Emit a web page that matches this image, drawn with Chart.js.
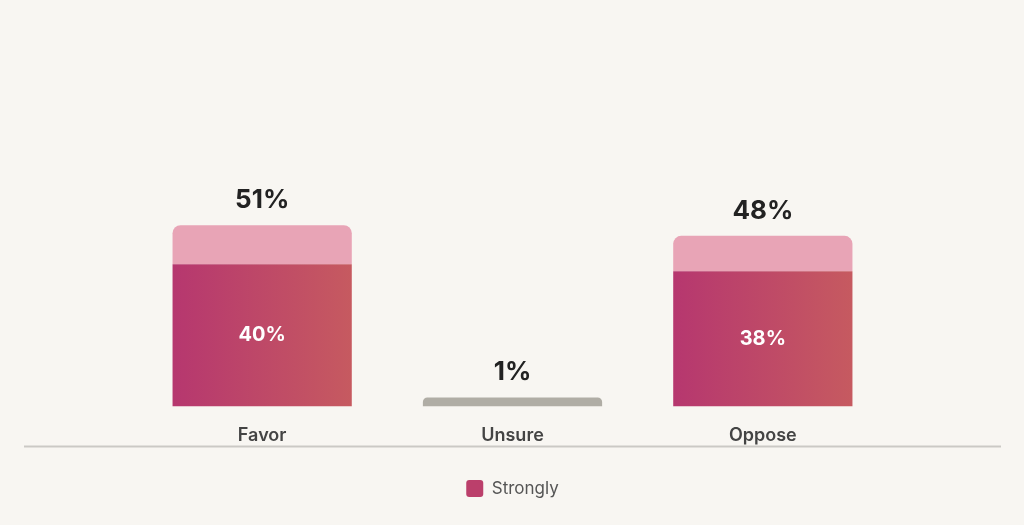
<!DOCTYPE html>
<html>
<head>
<meta charset="utf-8">
<script src="https://cdn.jsdelivr.net/npm/chart.js@4"></script>
<style>
  html, body { margin: 0; padding: 0; background: #f8f6f2; }
  canvas { display: block; }
</style>
</head>
<body>
<canvas id="chart" width="1024" height="525"></canvas>
<script>
const categories = ['Favor', 'Unsure', 'Oppose'];
const strongly = [40, null, 38];
const somewhat = [11, null, 10];
const unsure = [null, 1, null];

const FONT = "Inter, 'DejaVu Sans', sans-serif";
const BAR_FRACTION = 0.716;

function gradientAcross(ctx, x0, x1) {
  const g = ctx.createLinearGradient(x0, 0, x1, 0);
  g.addColorStop(0, '#b6376f');
  g.addColorStop(1, '#c65a60');
  return g;
}

function barGradient(c) {
  const chart = c.chart;
  if (c.type !== 'data' || !chart.chartArea) return '#bb3f6b';
  const x = chart.scales.x.getPixelForValue(c.dataIndex);
  const w = chart.chartArea.width / categories.length * BAR_FRACTION;
  return gradientAcross(chart.ctx, x - w / 2, x + w / 2);
}

// baseline rule under the category labels
const baseline = {
  id: 'baseline',
  afterDraw(chart) {
    const { ctx, chartArea } = chart;
    const y = chartArea.bottom + 40;
    ctx.save();
    ctx.strokeStyle = '#cbc9c5';
    ctx.lineWidth = 2;
    ctx.beginPath();
    ctx.moveTo(24, y);
    ctx.lineTo(1001, y);
    ctx.stroke();
    ctx.restore();
  }
};

// value labels: strongly inside, total above
const valueLabels = {
  id: 'valueLabels',
  afterDatasetsDraw(chart) {
    const ctx = chart.ctx;
    ctx.save();
    ctx.textAlign = 'center';
    ctx.textBaseline = 'middle';
    categories.forEach((_, i) => {
      let total = 0, top = Infinity, x = null;
      chart.data.datasets.forEach((ds, d) => {
        const v = ds.data[i];
        if (v == null) return;
        const el = chart.getDatasetMeta(d).data[i];
        total += v;
        top = Math.min(top, el.y);
        x = el.x;
        if (ds.label === 'Strongly') {
          ctx.fillStyle = '#ffffff';
          ctx.font = `bold 20px ${FONT}`;
          ctx.fillText(v + '%', el.x, (el.y + el.base) / 2);
        }
      });
      if (x === null) return;
      ctx.fillStyle = '#222222';
      ctx.font = `bold 26px ${FONT}`;
      ctx.fillText(total + '%', x, top - 25);
    });
    ctx.restore();
  }
};

new Chart(document.getElementById('chart'), {
  type: 'bar',
  data: {
    labels: categories,
    datasets: [
      {
        label: 'Strongly', data: strongly,
        backgroundColor: barGradient, borderWidth: 0,
      },
      {
        label: 'Somewhat', data: somewhat,
        backgroundColor: '#e8a4b6', borderWidth: 0,
        borderRadius: { topLeft: 8, topRight: 8 }, borderSkipped: 'bottom',
      },
      {
        label: 'Unsure', data: unsure,
        backgroundColor: '#b0ada5', borderWidth: 0, minBarLength: 9,
        borderRadius: { topLeft: 8, topRight: 8 }, borderSkipped: 'bottom',
      },
    ],
  },
  options: {
    responsive: false, animation: false,
    devicePixelRatio: 1,
    datasets: { bar: { categoryPercentage: 1, barPercentage: BAR_FRACTION, grouped: false } },
    layout: { padding: { left: 137, right: 136, top: 51, bottom: 18 } },
    plugins: {
      tooltip: { enabled: false },
      legend: {
        position: 'bottom',
        labels: {
          filter: item => item.text === 'Strongly',
          generateLabels: chart => Chart.defaults.plugins.legend.labels.generateLabels(chart)
            .map(item => Object.assign(item, { fillStyle: '#bb3f6b', strokeStyle: '#bb3f6b' })),
          boxWidth: 17, boxHeight: 17, useBorderRadius: true, borderRadius: 3,
          color: '#555555', padding: 16,
          font: { family: FONT, size: 17 },
        },
      },
    },
    scales: {
      x: {
        stacked: true,
        grid: { display: false, drawTicks: false },
        border: { display: false },
        ticks: { color: '#444444', padding: 18, font: { family: FONT, size: 18, weight: '600' } },
      },
      y: { stacked: true, display: false, min: 0, max: 100 },
    },
  },
  plugins: [baseline, valueLabels],
});
</script>
</body>
</html>
